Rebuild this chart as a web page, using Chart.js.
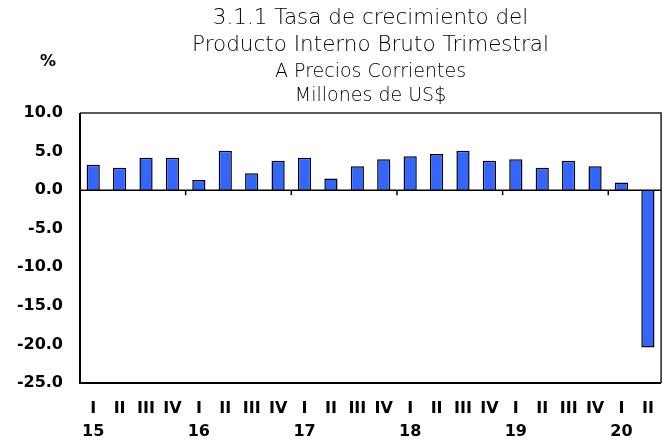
<!DOCTYPE html>
<html><head><meta charset="utf-8">
<script src="https://cdn.jsdelivr.net/npm/chart.js@4"></script>
<style>html,body{margin:0;padding:0;background:#fff}#wrap{width:668px;height:444px}</style>
</head><body><div id="wrap"><canvas id="c" width="668" height="444"></canvas></div>
<script>
const quarters = ["I","II","III","IV","I","II","III","IV","I","II","III","IV","I","II","III","IV","I","II","III","IV","I","II"];
const years = ["15","","","","16","","","","17","","","","18","","","","19","","","","20",""];
const growth = [3.3,2.9,4.2,4.2,1.3,5.1,2.2,3.8,4.2,1.5,3.1,4.0,4.4,4.7,5.1,3.8,4.0,2.9,3.8,3.1,1.0,-20.4];
const yTicks = [10,5,0,-5,-10,-15,-20,-25];
const titleLines = ["3.1.1 Tasa de crecimiento del","Producto Interno Bruto Trimestral"];
const subtitleLines = ["A Precios Corrientes","Millones de US$"];
const unitLabel = "%";

const labels = quarters.map((q,i)=>[q, years[i]]);

const extras = {
  id:'extras',
  afterDraw(chart){
    const ctx = chart.ctx, x = chart.scales.x, y = chart.scales.y, a = chart.chartArea;
    ctx.save();
    const y0 = y.getPixelForValue(0);
    ctx.strokeStyle = '#000'; ctx.lineWidth = 1.5;
    ctx.beginPath(); ctx.moveTo(a.left, y0); ctx.lineTo(a.right, y0); ctx.stroke();
    for (let i = 4; i < quarters.length; i += 4) {
      const px = (x.getPixelForValue(i-1) + x.getPixelForValue(i)) / 2;
      ctx.beginPath(); ctx.moveTo(px, y0); ctx.lineTo(px, y0 + 5); ctx.stroke();
    }
    ctx.strokeStyle = '#222'; ctx.lineWidth = 1.5;
    ctx.beginPath(); ctx.moveTo(a.left, a.top); ctx.lineTo(a.right, a.top); ctx.lineTo(a.right, a.bottom); ctx.stroke();
    ctx.strokeStyle = '#000'; ctx.lineWidth = 2;
    ctx.beginPath(); ctx.moveTo(a.left, a.top); ctx.lineTo(a.left, a.bottom); ctx.lineTo(a.right, a.bottom); ctx.stroke();
    ctx.fillStyle = '#000'; ctx.font = 'bold 16px "DejaVu Sans"';
    ctx.textAlign = 'center'; ctx.textBaseline = 'middle';
    ctx.fillText(unitLabel, 48, 62);
    ctx.restore();
  }
};

new Chart(document.getElementById('c'), {
  type:'bar',
  data:{ labels, datasets:[{ data: growth, backgroundColor:'#3366FF', borderColor:'#000', borderWidth:1.5, barPercentage:0.5, categoryPercentage:1.0 }]},
  options:{
    responsive:false, animation:false,
    layout:{ padding:{ left:0, right:1, top:0, bottom:0 } },
    plugins:{
      legend:{display:false}, tooltip:{enabled:false},
      title:{ display:true, text:titleLines, fullSize:false, color:'#000',
        font:{ family:'"DejaVu Sans Light", "DejaVu Sans"', size:21.5, weight:'200', lineHeight:1.256 }, padding:{top:4.5, bottom:0} },
      subtitle:{ display:true, text:subtitleLines, fullSize:false, color:'#000',
        font:{ family:'"DejaVu Sans Light", "DejaVu Sans"', size:19, weight:'200', lineHeight:1.263 }, padding:{top:1.5, bottom:5} }
    },
    scales:{
      x:{ grid:{ display:false, drawTicks:false }, border:{display:false},
        afterFit(s){ s.height = 61; },
        ticks:{ color:'#000', font:{ family:'"DejaVu Sans"', size:16, weight:'bold', lineHeight:1.45 }, padding:14, maxRotation:0, autoSkip:false } },
      y:{ min:-25, max:10, grid:{ display:false, drawTicks:false }, border:{display:false},
        afterBuildTicks(s){ s.ticks = yTicks.map(v=>({value:v})); },
        afterFit(s){ s.width = 80; },
        ticks:{ color:'#000', padding:17, font:{ family:'"DejaVu Sans"', size:16, weight:'bold' }, callback:v=>v.toFixed(1) } }
    }
  },
  plugins:[extras]
});
</script></body></html>
